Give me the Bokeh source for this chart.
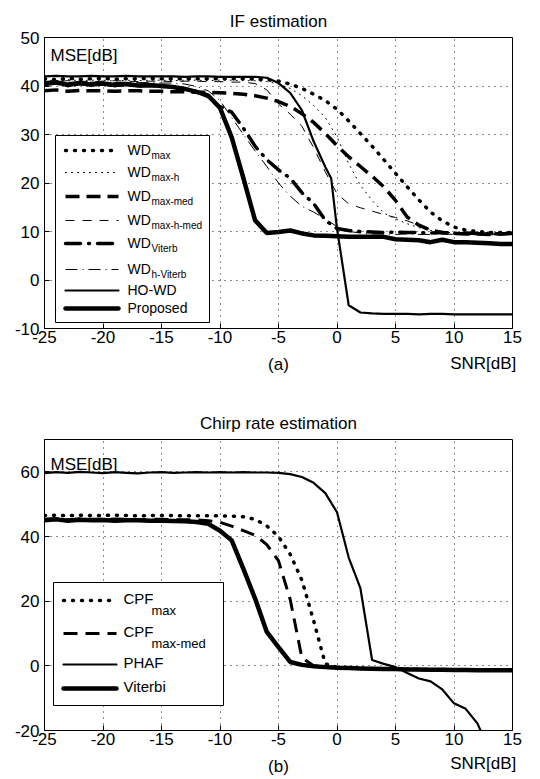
from bokeh.plotting import figure
from bokeh.models import Range1d, FixedTicker, Label, BoxAnnotation, Arrow, LinearAxis
from bokeh.layouts import column
from bokeh.embed import file_html
from bokeh.resources import INLINE

FONT = "Liberation Sans"

# ---------------- data ----------------
snr = list(range(-25, 16))
x_ticks = [-25, -20, -15, -10, -5, 0, 5, 10, 15]
x_tick_labels = ["-25", "-20", "-15", "-10", "-5", "0", "5", "10", "15"]
if_y_ticks = [-10, 0, 10, 20, 30, 40, 50]
if_y_tick_labels = ["-10", "0", "10", "20", "30", "40", "50"]
cr_y_ticks = [-20, 0, 20, 40, 60]
cr_y_tick_labels = ["-20", "0", "20", "40", "60"]
x_name_pos = [12.5]
x_name = ["SNR[dB]"]

# (a) IF estimation
wd_max = [41.5, 41.3, 41.6, 41.4, 41.5, 41.6, 41.4, 41.5, 41.5, 41.6, 41.5, 41.5, 41.5, 41.5,
          41.5, 41.5, 41.5, 41.5, 41.4, 41.3, 41.0, 40.4, 39.5, 38.3, 37.0, 35.2, 32.8, 30.2,
          27.6, 24.8, 22.0, 19.2, 16.5, 14.0, 12.2, 10.9, 10.3, 10.0, 9.8, 9.8, 9.8]
wd_max_h = [41.2, 41.0, 41.3, 41.1, 41.2, 41.2, 41.0, 41.2, 41.1, 41.2, 41.2, 41.1, 41.2, 41.2,
            41.1, 41.2, 41.2, 41.1, 41.1, 40.9, 40.4, 39.5, 38.0, 36.0, 33.5, 29.5, 24.0, 19.5,
            16.4, 13.8, 12.6, 11.6, 10.8, 10.2, 9.9, 9.7, 9.7, 9.6, 9.7, 9.7, 9.7]
wd_max_med = [39.0, 39.2, 38.9, 39.1, 39.0, 39.0, 38.9, 39.0, 39.0, 38.9, 38.9, 38.8, 38.8, 38.7,
              38.7, 38.6, 38.5, 38.3, 38.0, 37.5, 36.8, 35.8, 34.3, 32.5, 30.2, 27.7, 25.4, 23.4,
              21.4, 19.2, 16.4, 13.0, 11.3, 10.3, 9.8, 9.6, 9.5, 9.5, 9.4, 9.5, 9.6]
wd_max_h_med = [41.0, 40.9, 41.1, 41.0, 40.9, 41.0, 41.1, 41.0, 40.9, 41.0, 41.0, 40.9, 41.0, 41.0,
                40.9, 40.9, 40.8, 40.8, 40.5, 39.2, 36.3, 34.2, 31.7, 27.3, 22.3, 17.8, 15.7, 14.9,
                14.2, 13.5, 12.9, 12.2, 11.3, 10.4, 9.8, 9.6, 9.5, 9.5, 9.5, 9.5, 9.5]
wd_viterbi = [40.3, 40.6, 40.1, 40.5, 40.2, 40.4, 40.1, 40.3, 40.0, 40.1, 39.9, 39.8, 39.4, 38.9,
              37.8, 35.8, 34.6, 31.3, 27.6, 24.8, 22.7, 21.0, 18.0, 15.8, 12.3, 10.6, 10.2, 10.0,
              9.9, 9.8, 9.9, 9.8, 9.8, 9.7, 9.8, 9.6, 9.7, 9.6, 9.6, 9.5, 9.7]
wd_h_viterbi = [40.8, 40.9, 40.7, 40.9, 40.8, 40.8, 40.7, 40.8, 40.7, 40.7, 40.6, 40.6, 40.4, 39.9,
                39.0, 37.0, 33.5, 30.0, 26.6, 23.4, 20.0, 17.3, 15.2, 14.0, 12.6, 11.0, 10.0, 9.7,
                9.5, 9.5, 9.4, 9.5, 9.4, 9.4, 9.5, 9.4, 9.4, 9.4, 9.3, 9.4, 9.4]
howd_snr = [-25, -24, -23, -22, -21, -20, -19, -18, -17, -16, -15, -14, -13, -12, -11, -10, -9,
            -8, -7, -6, -5, -4, -3, -2, -1, -0.5, 0, 1, 2, 3, 4, 5, 6, 7, 8, 9, 10, 11, 12, 13,
            14, 15]
ho_wd = [42.0, 42.1, 42.0, 42.0, 42.1, 42.0, 42.0, 42.1, 42.0, 42.0, 42.0, 42.0, 41.9, 42.0,
         42.0, 41.9, 41.9, 41.9, 41.9, 41.7, 40.6, 38.6, 35.0, 28.6, 23.3, 21.0, 10.6, -5.2,
         -6.7, -6.9, -7.0, -7.0, -7.0, -7.1, -7.0, -7.0, -7.1, -7.1, -7.1, -7.1, -7.1, -7.1]
proposed = [40.5, 40.8, 40.2, 40.6, 40.3, 40.5, 40.2, 40.4, 40.1, 40.2, 40.0, 39.8, 39.4, 38.8,
            38.0, 35.5, 29.4, 21.0, 12.3, 9.7, 9.9, 10.2, 9.6, 9.2, 9.1, 9.0, 8.9, 8.9, 8.9,
            8.9, 8.4, 8.3, 8.2, 7.8, 8.3, 7.8, 7.8, 7.7, 7.6, 7.4, 7.4]

# (b) Chirp rate estimation
cpf_max = [46.5, 46.6, 46.4, 46.6, 46.5, 46.5, 46.6, 46.5, 46.4, 46.5, 46.5, 46.5, 46.4, 46.4,
           46.4, 46.4, 46.3, 46.1, 45.3, 43.3, 40.0, 34.5, 26.5, 14.0, 0.6, -0.4, -0.6, -0.7,
           -0.8, -0.9, -1.0, -1.0, -1.1, -1.1, -1.1, -1.2, -1.2, -1.3, -1.3, -1.3, -1.3]
cpf_max_med = [45.3, 45.5, 45.2, 45.4, 45.3, 45.3, 45.4, 45.3, 45.2, 45.3, 45.3, 45.2, 45.2, 45.1,
               44.9, 44.4, 43.2, 41.8, 40.4, 37.5, 32.5, 20.5, 2.5, 0.0, -0.3, -0.5, -0.7, -0.8,
               -0.9, -1.0, -1.1, -1.1, -1.2, -1.2, -1.2, -1.3, -1.3, -1.3, -1.4, -1.4, -1.4]
phaf_snr = list(range(-25, 14))
phaf = [59.6, 59.9, 59.7, 60.0, 59.8, 59.6, 59.9, 59.7, 59.5, 59.8, 59.9, 59.7, 59.8, 59.9, 59.8,
        59.9, 59.8, 59.9, 59.8, 59.8, 59.7, 59.3, 58.4, 56.6, 53.4, 47.5, 33.5, 24.0, 1.8, 0.6,
        -0.4, -2.2, -3.9, -4.8, -7.3, -11.6, -13.3, -17.8, -26.0]
viterbi = [45.0, 45.3, 44.9, 45.2, 45.0, 45.1, 44.9, 45.0, 45.0, 44.9, 44.9, 44.8, 44.7, 44.5,
           43.9, 41.8, 38.8, 30.0, 20.8, 10.5, 5.8, 1.2, 0.3, -0.1, -0.4, -0.6, -0.7, -0.8, -0.9,
           -1.0, -1.0, -1.1, -1.1, -1.2, -1.2, -1.3, -1.3, -1.4, -1.4, -1.4, -1.4]

# ---------------- styles ----------------
K = "black"
ST_DOT_THICK = dict(line_color=K, line_width=3.5, line_dash="1 8", line_cap="round")
ST_DOT_THIN = dict(line_color=K, line_width=1, line_dash="1 5", line_cap="round")
ST_DASH_THICK = dict(line_color=K, line_width=3.5, line_dash="14 7", line_cap="butt")
ST_DASH_THIN = dict(line_color=K, line_width=1, line_dash="9 8", line_cap="butt")
ST_DASHDOT_THICK = dict(line_color=K, line_width=3.5, line_dash="15 8 1 8", line_cap="round")
ST_DASHDOT_THIN = dict(line_color=K, line_width=1, line_dash="12 5 1 5", line_cap="butt")
ST_SOLID = dict(line_color=K, line_width=2.2, line_dash="solid", line_cap="round")
ST_SOLID_THICK = dict(line_color=K, line_width=4.5, line_dash="solid", line_cap="round")
ST_DASH_B = dict(line_color=K, line_width=3, line_dash="14 8", line_cap="butt")


def make_fig(height, b_top, b_bottom, yr, yticks, ylabels, title, tag, name_standoff, tag_standoff):
    p = figure(width=540, height=height, x_range=Range1d(-25, 15), y_range=Range1d(*yr),
               output_backend="svg", toolbar_location=None,
               min_border_left=44, min_border_right=28,
               min_border_top=b_top, min_border_bottom=b_bottom,
               background_fill_color="white", border_fill_color="white")
    p.outline_line_color = K
    p.outline_line_width = 1
    p.outline_line_alpha = 1
    p.title.text = title
    p.title.align = "center"
    p.title.text_font = FONT
    p.title.text_font_size = "17px"
    p.title.text_font_style = "normal"
    p.title.text_color = K
    p.title.standoff = 13
    for ax, ticks, labels, standoff in ((p.xaxis[0], x_ticks, x_tick_labels, 2),
                                        (p.yaxis[0], yticks, ylabels, 5)):
        ax.ticker = FixedTicker(ticks=ticks)
        ax.major_label_overrides = dict(zip(ticks, labels))
        ax.major_tick_in = 5
        ax.major_tick_out = 0
        ax.minor_tick_line_color = None
        ax.axis_line_color = K
        ax.major_tick_line_color = K
        ax.major_label_text_font = FONT
        ax.major_label_text_font_size = "17px"
        ax.major_label_text_color = K
        ax.major_label_standoff = standoff
    # second row under the axis: "SNR[dB]" name at the right, panel tag centred
    name_ax = LinearAxis(ticker=FixedTicker(ticks=x_name_pos),
                         major_label_overrides=dict(zip(x_name_pos, x_name)),
                         axis_line_color=None, major_tick_line_color=None,
                         minor_tick_line_color=None,
                         major_label_text_font=FONT, major_label_text_font_size="17px",
                         major_label_text_color=K, major_label_standoff=name_standoff,
                         axis_label=tag, axis_label_text_font=FONT,
                         axis_label_text_font_size="17px", axis_label_text_font_style="normal",
                         axis_label_text_color=K, axis_label_standoff=tag_standoff)
    p.add_layout(name_ax, "below")
    for g in (p.xgrid[0], p.ygrid[0]):
        g.grid_line_color = K
        g.grid_line_dash = "1 5"
        g.grid_line_width = 1
        g.grid_line_alpha = 0.9
    return p


def text(p, s, x, y, size, align="left", baseline="alphabetic"):
    p.add_layout(Label(x=x, y=y, x_units="screen", y_units="screen", text=s,
                       text_font=FONT, text_font_size=size, text_color=K,
                       text_align=align, text_baseline=baseline))


def legend(p, box, sx0, sx1, lx, subx, rows, entries, fmain, fsub, main_dy, sub_dy):
    l, r, b, t = box
    p.add_layout(BoxAnnotation(left=l, right=r, bottom=b, top=t,
                               left_units="screen", right_units="screen",
                               bottom_units="screen", top_units="screen",
                               fill_color="white", fill_alpha=1.0,
                               line_color=K, line_width=1, line_alpha=1.0))
    for (main, sub, st), y in zip(entries, rows):
        p.add_layout(Arrow(start=None, end=None, x_start=sx0, y_start=y, x_end=sx1, y_end=y,
                           start_units="screen", end_units="screen", **st))
        text(p, main, lx, y + main_dy, fmain)
        if sub:
            text(p, sub, subx, y + sub_dy, fsub)


# ---------------- (a) IF estimation ----------------
p1 = make_fig(392, 37, 64, (-10, 50), if_y_ticks, if_y_tick_labels,
              "IF estimation", "(a)", 2, -21)
series_a = [
    (snr, wd_max, ST_DOT_THICK, "WD", "max"),
    (snr, wd_max_h, ST_DOT_THIN, "WD", "max-h"),
    (snr, wd_max_med, ST_DASH_THICK, "WD", "max-med"),
    (snr, wd_max_h_med, ST_DASH_THIN, "WD", "max-h-med"),
    (snr, wd_viterbi, ST_DASHDOT_THICK, "WD", "Viterb"),
    (snr, wd_h_viterbi, ST_DASHDOT_THIN, "WD", "h-Viterb"),
    (howd_snr, ho_wd, ST_SOLID, "HO-WD", None),
    (snr, proposed, ST_SOLID_THICK, "Proposed", None),
]
for xs, ys, st, _, _ in series_a:
    p1.line(xs, ys, **st)

text(p1, "MSE[dB]", 6, 273, "17px")
legend(p1, (11, 165, 6, 193), 21, 74, 83, 107,
       [178, 156, 132, 108, 85, 59, 38, 20],
       [(m, s, st) for _, _, st, m, s in series_a], "14px", "10px", 1, -5)

# ---------------- (b) Chirp rate estimation ----------------
p2 = make_fig(386, 47, 48, (-20, 70), cr_y_ticks, cr_y_tick_labels,
              "Chirp rate estimation", "(b)", 0, -19)
series_b = [
    (snr, cpf_max, ST_DOT_THICK, "CPF", "max"),
    (snr, cpf_max_med, ST_DASH_B, "CPF", "max-med"),
    (phaf_snr, phaf, ST_SOLID, "PHAF", None),
    (snr, viterbi, ST_SOLID_THICK, "Viterbi", None),
]
for xs, ys, st, _, _ in series_b:
    p2.line(xs, ys, **st)

text(p2, "MSE[dB]", 6, 266, "17px")
legend(p2, (9, 179, 25, 148), 19, 72, 79, 107,
       [130, 97, 66, 42],
       [(m, s, st) for _, _, st, m, s in series_b], "15px", "13px", 2, -10)

layout = column(p1, p2)
open("out.html", "w").write(file_html(layout, INLINE))
